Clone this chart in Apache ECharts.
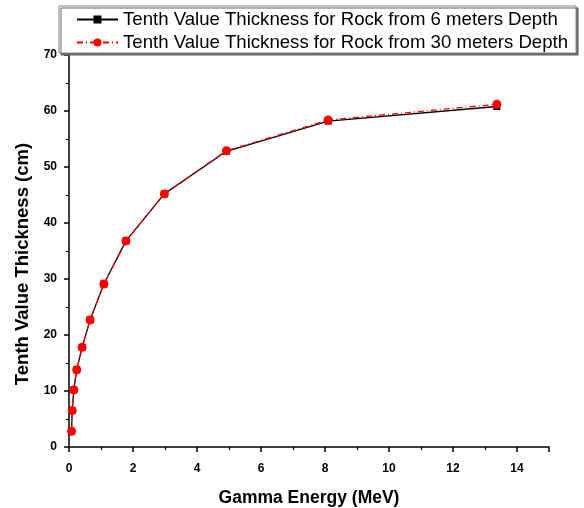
<!DOCTYPE html>
<html>
<head>
<meta charset="utf-8">
<script src="https://cdn.jsdelivr.net/npm/echarts@6/dist/echarts.min.js"></script>
<style>html,body{margin:0;padding:0;background:#fff}#c{width:584px;height:508px}</style>
</head>
<body>
<div id="c"></div>
<script>
var energy6 = [0.08, 0.10, 0.15, 0.24, 0.41, 0.66, 1.09, 1.78, 2.98, 4.92, 8.10, 13.37];
var tvt6 = [2.8, 6.5, 10.2, 13.8, 17.8, 22.7, 29.1, 36.8, 45.2, 52.8, 58.2, 60.8];
var energy30 = [0.08, 0.10, 0.15, 0.24, 0.41, 0.66, 1.09, 1.78, 2.98, 4.92, 8.10, 13.37];
var tvt30 = [2.8, 6.5, 10.2, 13.8, 17.8, 22.7, 29.1, 36.8, 45.2, 52.9, 58.4, 61.2];
var seriesNames = ['Tenth Value Thickness for Rock from 6 meters Depth', 'Tenth Value Thickness for Rock from 30 meters Depth'];
var xTitle = 'Gamma Energy (MeV)';
var yTitle = 'Tenth Value Thickness (cm)';

function pairs(xs, ys) { return xs.map(function (x, i) { return [x, ys[i]]; }); }

var chart = echarts.init(document.getElementById('c'), null, { renderer: 'canvas' });
var FONT = 'Liberation Sans, Arial, sans-serif';
chart.setOption({
  animation: false,
  backgroundColor: '#fff',
  textStyle: { fontFamily: FONT },
  grid: { left: 69, right: 35, top: 55, bottom: 61, containLabel: false, outerBoundsMode: 'none' },
  legend: {
    orient: 'vertical',
    left: 59, top: 6,
    padding: [4, 8, 1, 17],
    itemGap: 4,
    itemWidth: 41,
    itemHeight: 10,
    borderColor: '#808080',
    borderWidth: 1,
    backgroundColor: '#fff',
    shadowColor: '#666',
    shadowOffsetX: 2,
    shadowOffsetY: 2,
    shadowBlur: 0,
    textStyle: { fontFamily: FONT, fontSize: 18.6, color: '#000', padding: [0, 0, 0, 0] },
    data: seriesNames
  },
  xAxis: {
    type: 'value', min: 0, max: 15, interval: 2,
    name: xTitle, nameLocation: 'middle', nameGap: 42,
    nameTextStyle: { fontFamily: FONT, fontSize: 17.5, fontWeight: 'bold', color: '#000' },
    axisLine: { show: true, onZero: false, lineStyle: { color: '#000', width: 1.5 } },
    axisTick: { show: true, inside: false, length: 5, lineStyle: { color: '#000', width: 1.5 } },
    minorTick: { show: true, splitNumber: 2, length: 3, lineStyle: { color: '#000', width: 1.2 } },
    axisLabel: { fontFamily: FONT, fontSize: 12, fontWeight: 'bold', color: '#000', margin: 16, showMaxLabel: false },
    splitLine: { show: false }
  },
  yAxis: {
    type: 'value', min: 0, max: 70, interval: 10,
    name: yTitle, nameLocation: 'middle', nameGap: 37, nameRotate: 90,
    nameTextStyle: { fontFamily: FONT, fontSize: 18.5, fontWeight: 'bold', color: '#000', padding: [0, 26, 0, 0] },
    axisLine: { show: true, onZero: false, lineStyle: { color: '#000', width: 1.5 } },
    axisTick: { show: true, inside: false, length: 5, lineStyle: { color: '#000', width: 1.5 } },
    minorTick: { show: true, splitNumber: 2, length: 3, lineStyle: { color: '#000', width: 1.2 } },
    axisLabel: { fontFamily: FONT, fontSize: 12, fontWeight: 'bold', color: '#000', margin: 12 },
    splitLine: { show: false }
  },
  series: [
    {
      name: seriesNames[0], type: 'line', data: pairs(energy6, tvt6),
      symbol: 'rect', symbolSize: 7, showSymbol: true,
      lineStyle: { color: '#000', width: 1.3, type: 'solid' },
      itemStyle: { color: '#000' }
    },
    {
      name: seriesNames[1], type: 'line', data: pairs(energy30, tvt30),
      symbol: 'circle', symbolSize: 9, showSymbol: true,
      lineStyle: { color: '#ff0000', width: 1.3, type: [6, 3, 1, 3] },
      itemStyle: { color: '#ff0000' }
    }
  ]
});
</script>
</body>
</html>
